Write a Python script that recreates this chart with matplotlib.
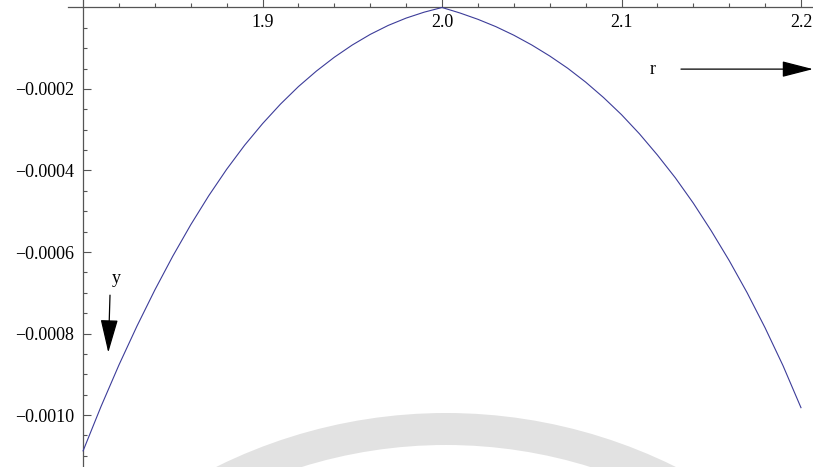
import numpy as np
import matplotlib.pyplot as plt
from matplotlib.patches import Wedge
from matplotlib.transforms import IdentityTransform

# values (y in units of 1e-4)
r_vals = [1.80, 1.81, 1.82, 1.83, 1.84, 1.85, 1.86, 1.87, 1.88, 1.89,
          1.90, 1.91, 1.92, 1.93, 1.94, 1.95, 1.96, 1.97, 1.98, 1.99,
          2.00, 2.01, 2.02, 2.03, 2.04, 2.05, 2.06, 2.07, 2.08, 2.09,
          2.10, 2.11, 2.12, 2.13, 2.14, 2.15, 2.16, 2.17, 2.18, 2.19, 2.20]
y_vals = [-10.88, -9.79, -8.77, -7.82, -6.93, -6.10, -5.33, -4.62, -3.97, -3.38,
          -2.85, -2.37, -1.94, -1.56, -1.22, -0.92, -0.66, -0.44, -0.26, -0.115,
          0.0, -0.135, -0.29, -0.47, -0.68, -0.92, -1.19, -1.49, -1.83, -2.21,
          -2.63, -3.10, -3.62, -4.18, -4.80, -5.48, -6.21, -7.00, -7.86, -8.79, -9.82]
y_vals = [v * 1e-4 for v in y_vals]

x_major = [1.9, 2.0, 2.1, 2.2]
x_labels = ["1.9", "2.0", "2.1", "2.2"]
y_major = [-0.0002, -0.0004, -0.0006, -0.0008, -0.0010]
y_labels = ["\u22120.0002", "\u22120.0004", "\u22120.0006", "\u22120.0008", "\u22120.0010"]

AXIS_COL = "#555555"
LINE_COL = "#3c3c99"
FONT = "Liberation Serif"

fig = plt.figure(figsize=(8.13, 4.67), dpi=100)
ax = fig.add_axes([0, 0, 1, 1])

# faint watermark band
band = Wedge((446, -463), 517, 55, 125, width=32, transform=IdentityTransform(),
             facecolor="#e2e2e2", edgecolor="none", zorder=0)
fig.patches.append(band)
ax.patch.set_alpha(0)

ax.plot(r_vals, y_vals, color=LINE_COL, lw=0.8, zorder=3)

ax.set_xlim(1.7537, 2.2067)
ax.set_ylim(-0.0011276, 0.0000184)

for s in ["top", "right"]:
    ax.spines[s].set_visible(False)
ax.spines["left"].set_position(("data", 1.8))
ax.spines["bottom"].set_position(("data", 0.0))
ax.spines["bottom"].set_bounds(1.7916, 2.2067)
for s in ["left", "bottom"]:
    ax.spines[s].set_color(AXIS_COL)
    ax.spines[s].set_linewidth(0.9)

ax.set_xticks(x_major)
ax.set_xticklabels(x_labels)
ax.set_xticks(np.arange(1.82, 2.201, 0.02), minor=True)
ax.set_yticks(y_major)
ax.set_yticklabels(y_labels)
ax.set_yticks(np.arange(-0.0011, -0.00004, 0.00005), minor=True)

ax.tick_params(which="both", direction="in", color=AXIS_COL, width=0.8,
               labelsize=13, labelcolor="black")
ax.tick_params(which="major", length=6)
ax.tick_params(which="minor", length=3.2)
ax.tick_params(axis="x", pad=5)
ax.tick_params(axis="y", pad=6.5)
for lab in ax.get_xticklabels() + ax.get_yticklabels():
    lab.set_fontfamily(FONT)

# direction arrows
ax.text(0.803, 0.852, "r", transform=ax.transAxes, fontsize=13, family=FONT,
        ha="center", va="center")
ax.annotate("", xy=(1.0, 0.852), xytext=(0.8376, 0.852), xycoords="axes fraction",
            arrowprops=dict(arrowstyle="-|>,head_length=1.95,head_width=0.5",
                            mutation_scale=10, color="black", lw=0.9,
                            shrinkA=0, shrinkB=0))
ax.text(0.1427, 0.403, "y", transform=ax.transAxes, fontsize=13, family=FONT,
        ha="center", va="center")
ax.annotate("", xy=(0.1332, 0.245), xytext=(0.1353, 0.368), xycoords="axes fraction",
            arrowprops=dict(arrowstyle="-|>,head_length=2.1,head_width=0.55",
                            mutation_scale=10, color="black", lw=0.9,
                            shrinkA=0, shrinkB=0))

fig.savefig("out.png", dpi=100)
